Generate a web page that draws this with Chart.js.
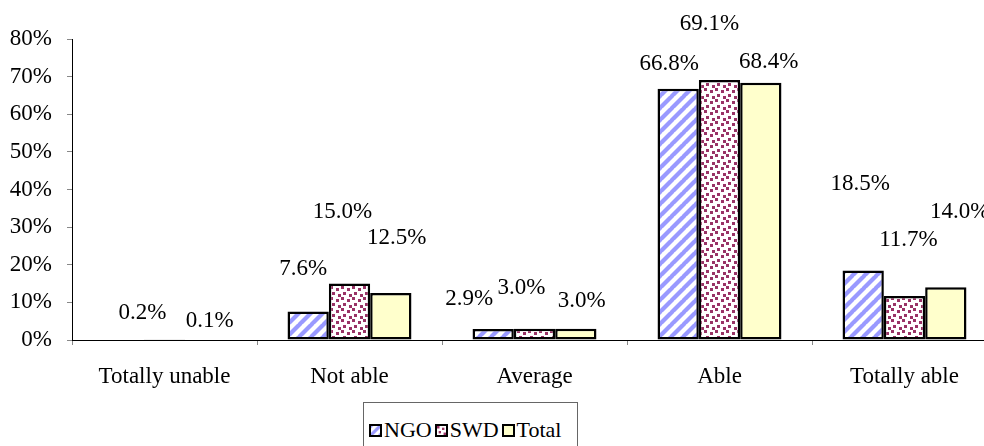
<!DOCTYPE html>
<html>
<head>
<meta charset="utf-8">
<script src="https://cdn.jsdelivr.net/npm/chart.js@4.4.0/dist/chart.umd.min.js"></script>
<style>
  html, body { margin: 0; padding: 0; background: #fff; }
  #wrap { position: relative; width: 984px; height: 446px; overflow: hidden; }
  #wrap canvas { position: absolute; left: 0; top: 0; }
  #legend {
    position: absolute; left: 363px; top: 402px; width: 215px; height: 60px;
    border: 1px solid #666; box-sizing: border-box; background: #fff;
    font-family: "Liberation Serif", serif; font-size: 22px; color: #000;
    display: flex; align-items: flex-start; padding: 14px 0 0 5px;
  }
  #legend .item { display: flex; align-items: center; margin-right: 3px; line-height: 26px; }
  #legend .sw { width: 9px; height: 9px; border: 2px solid #000; margin-right: 2px; background-size: cover; }
</style>
</head>
<body>
<div id="wrap">
  <canvas id="myChart" width="1000" height="446"></canvas>
  <div id="legend"></div>
</div>
<script>
const categories = ['Totally unable', 'Not able', 'Average', 'Able', 'Totally able'];
const ngoData = [null, 7.6, 2.9, 66.8, 18.5];
const swdData = [0.2, 15.0, 3.0, 69.1, 11.7];
const totalData = [0.1, 12.5, 3.0, 68.4, 14.0];
const seriesNames = ['NGO', 'SWD', 'Total'];

// label nudges (px from the bar top), same layout as the original
const labelNudge = [
  [[0, 0], [-5, -42], [-24, -30], [-9, -25], [-3, -86]],
  [[-22, -26], [-7, -72], [-13, -41], [-10, -56], [4, -56]],
  [[4, -19], [6, -55], [6, -28], [8, -21], [14, -75]],
];

// patterns
function stripeTile() {
  const s = 12;
  const c = document.createElement('canvas');
  c.width = s; c.height = s;
  const g = c.getContext('2d');
  g.fillStyle = '#fff';
  g.fillRect(0, 0, s, s);
  g.strokeStyle = '#9999FF';
  g.lineWidth = 4.2;
  [-s, 0, s].forEach(o => {
    g.beginPath();
    g.moveTo(o - 1, s + 1);
    g.lineTo(o + s + 1, -1);
    g.stroke();
  });
  return c;
}
function dotTile() {
  const c = document.createElement('canvas');
  c.width = 11; c.height = 11;
  const g = c.getContext('2d');
  g.fillStyle = '#fff';
  g.fillRect(0, 0, 11, 11);
  g.fillStyle = '#993366';
  [[0, 0], [6, 2], [2, 6], [8, 8]].forEach(([x, y]) => g.fillRect(x, y, 3, 3));
  return c;
}

const canvas = document.getElementById('myChart');
const ctx = canvas.getContext('2d');
const stripes = stripeTile();
const dots = dotTile();
const fills = [
  ctx.createPattern(stripes, 'repeat'),
  ctx.createPattern(dots, 'repeat'),
  '#FFFFCC',
];

const labelPlugin = {
  id: 'barLabels',
  afterDatasetsDraw(chart) {
    const c = chart.ctx;
    c.save();
    c.font = '23px "Liberation Serif"';
    c.fillStyle = '#000';
    c.textAlign = 'center';
    c.textBaseline = 'middle';
    chart.data.datasets.forEach((ds, i) => {
      chart.getDatasetMeta(i).data.forEach((bar, j) => {
        const v = ds.data[j];
        if (v == null) return;
        const [dx, dy] = labelNudge[i][j];
        c.fillText(v.toFixed(1) + '%', bar.x + dx, bar.y + dy);
      });
    });
    c.restore();
  }
};

Chart.defaults.font.family = '"Liberation Serif", serif';
Chart.defaults.color = '#000';

new Chart(ctx, {
  type: 'bar',
  data: {
    labels: categories,
    datasets: [ngoData, swdData, totalData].map((d, i) => ({
      label: seriesNames[i],
      data: d,
      backgroundColor: fills[i],
      borderColor: '#000',
      borderWidth: 2.5,
      borderSkipped: false,
      categoryPercentage: 0.67,
      barPercentage: 1.0,
    })),
  },
  options: {
    responsive: false,
    animation: false,
    layout: { padding: { top: 39, right: 3, left: 0, bottom: 0 } },
    plugins: {
      legend: { display: false },
      tooltip: { enabled: false },
    },
    scales: {
      x: {
        grid: { offset: true, drawOnChartArea: false, tickLength: 5, color: '#888' },
        border: { color: '#000', width: 1 },
        ticks: { font: { size: 23 }, padding: 18, maxRotation: 0 },
        afterFit: s => { s.height = 106; },
      },
      y: {
        min: 0,
        max: 80,
        grid: { drawOnChartArea: false, tickLength: 5, color: '#888' },
        border: { color: '#000', width: 1 },
        ticks: {
          stepSize: 10,
          font: { size: 23 },
          padding: 15,
          callback: v => v + '%',
        },
        afterFit: s => { s.width = 72; },
      },
    },
  },
  plugins: [labelPlugin],
});

// legend (html)
const legend = document.getElementById('legend');
[stripes, dots, null].forEach((tile, i) => {
  const item = document.createElement('div');
  item.className = 'item';
  const sw = document.createElement('span');
  sw.className = 'sw';
  if (tile) sw.style.backgroundImage = 'url(' + tile.toDataURL() + ')';
  else sw.style.background = fills[2];
  const t = document.createElement('span');
  t.textContent = seriesNames[i];
  item.appendChild(sw);
  item.appendChild(t);
  legend.appendChild(item);
});
</script>
</body>
</html>
